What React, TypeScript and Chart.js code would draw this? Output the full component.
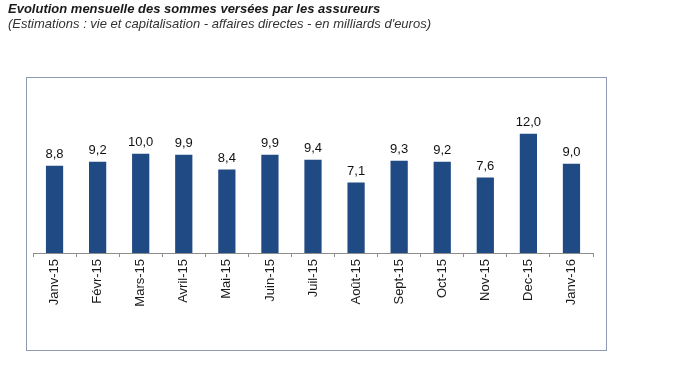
import React, { useEffect, useRef } from "react";
import { Chart, registerables } from "chart.js";

Chart.register(...registerables);

const categories = ["Janv-15", "Févr-15", "Mars-15", "Avril-15", "Mai-15", "Juin-15", "Juil-15", "Août-15", "Sept-15", "Oct-15", "Nov-15", "Dec-15", "Janv-16"];
const values = [8.8, 9.2, 10.0, 9.9, 8.4, 9.9, 9.4, 7.1, 9.3, 9.2, 7.6, 12.0, 9.0];
const titleText = "Evolution mensuelle des sommes versées par les assureurs";
const subtitleText = "(Estimations : vie et capitalisation - affaires directes - en milliards d'euros)";

const BAR_COLOR = "#1f4a84";

const framePlugin = {
  id: "frame",
  beforeDraw(chart: any) {
    const ctx = chart.ctx;
    ctx.save();
    ctx.fillStyle = "#ffffff";
    ctx.fillRect(0, 0, chart.width, chart.height);
    ctx.strokeStyle = "#8e9ab2";
    ctx.lineWidth = 1;
    ctx.strokeRect(26.5, 77.5, 580, 273);
    ctx.restore();
  },
};

const valueLabels = {
  id: "valueLabels",
  afterDatasetsDraw(chart: any) {
    const ctx = chart.ctx;
    const meta = chart.getDatasetMeta(0);
    ctx.save();
    ctx.font = "13px 'Liberation Sans', Arial, sans-serif";
    ctx.fillStyle = "#111111";
    ctx.textAlign = "center";
    ctx.textBaseline = "alphabetic";
    meta.data.forEach((bar: any, i: number) => {
      const v = values[i];
      ctx.fillText(v.toFixed(1).replace(".", ","), bar.x, bar.y - 8);
    });
    ctx.restore();
  },
};

export default function App() {
  const ref = useRef<HTMLCanvasElement | null>(null);
  useEffect(() => {
    if (!ref.current) return;
    const chart = new Chart(ref.current, {
      type: "bar",
      data: {
        labels: categories,
        datasets: [
          {
            data: values,
            backgroundColor: BAR_COLOR,
            borderWidth: 0,
            categoryPercentage: 1,
            barPercentage: 0.4,
          },
        ],
      },
      options: {
        animation: false,
        responsive: false,
        maintainAspectRatio: false,
        layout: { padding: { left: 33, right: 87, top: 114, bottom: 0 } },
        plugins: {
          legend: { display: false },
          tooltip: { enabled: false },
        },
        scales: {
          x: {
            afterFit(scale: any) {
              scale.height = 126;
            },
            grid: {
              offset: true,
              drawOnChartArea: false,
              drawTicks: true,
              tickLength: 4,
              color: "#8c8c8c",
            },
            border: { display: true, color: "#8c8c8c", width: 1 },
            ticks: {
              minRotation: 90,
              maxRotation: 90,
              autoSkip: false,
              padding: 2,
              color: "#1a1a1a",
              font: { family: "'Liberation Sans', Arial, sans-serif", size: 13 },
            },
          },
          y: {
            display: false,
            min: 0,
            max: 14,
          },
        },
      },
      plugins: [framePlugin, valueLabels],
    });
    return () => chart.destroy();
  }, []);

  return (
    <div style={{ position: "absolute", left: 0, top: 0, width: 680, height: 379, background: "#fff", fontFamily: "'Liberation Sans', Arial, sans-serif" }}>
      <canvas ref={ref} width={680} height={379} style={{ position: "absolute", left: 0, top: 0 }} />
      <div style={{ position: "absolute", left: 8, top: 1, fontSize: 13, fontWeight: "bold", fontStyle: "italic", color: "#1a1a1a", whiteSpace: "nowrap" }}>
        {titleText}
      </div>
      <div style={{ position: "absolute", left: 8, top: 16, fontSize: 13, fontStyle: "italic", color: "#333333", whiteSpace: "nowrap" }}>
        {subtitleText}
      </div>
    </div>
  );
}
